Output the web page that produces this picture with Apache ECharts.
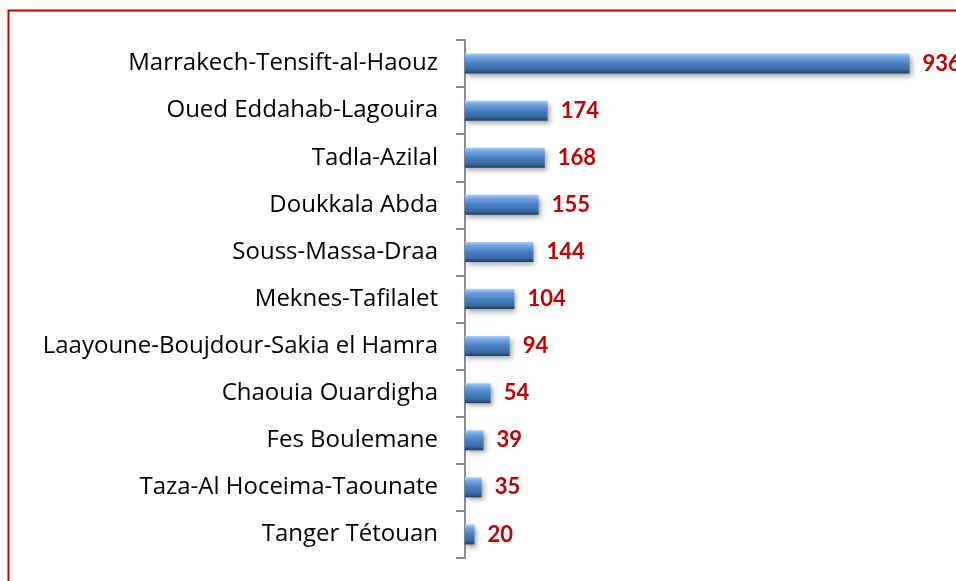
<!DOCTYPE html>
<html>
<head>
<meta charset="utf-8">
<script src="https://cdn.jsdelivr.net/npm/echarts@6/dist/echarts.min.js"></script>
<style>
  html, body { margin: 0; padding: 0; background: #fff; }
  #chart { width: 956px; height: 581px; }
</style>
</head>
<body>
<div id="chart"></div>
<script>
// regions, top to bottom as drawn
const regions = [
  'Marrakech-Tensift-al-Haouz',
  'Oued Eddahab-Lagouira',
  'Tadla-Azilal',
  'Doukkala Abda',
  'Souss-Massa-Draa',
  'Meknes-Tafilalet',
  'Laayoune-Boujdour-Sakia el Hamra',
  'Chaouia Ouardigha',
  'Fes Boulemane',
  'Taza-Al Hoceima-Taounate',
  'Tanger Tétouan'
]
const counts = [936, 174, 168, 155, 144, 104, 94, 54, 39, 35, 20]

const chart = echarts.init(document.getElementById('chart'))

// bevelled blue look
const barColor = new echarts.graphic.LinearGradient(0, 0, 0, 1, [
  { offset: 0, color: '#a9cdf5' },
  { offset: 0.2, color: '#6fa3e0' },
  { offset: 0.5, color: '#4a7fc1' },
  { offset: 0.8, color: '#3b6ba8' },
  { offset: 1, color: '#1e3d63' }
])

chart.setOption({
  animation: false,
  graphic: [{
    type: 'rect',
    shape: { x: 8.5, y: 10.5, width: 1200, height: 1000 },
    style: { fill: 'none', stroke: '#cc0000', lineWidth: 2 },
    silent: true
  }],
  grid: {
    left: 465,
    width: 475,
    top: 40,
    bottom: 23
  },
  xAxis: {
    type: 'value',
    min: 0,
    max: 1000,
    show: false
  },
  yAxis: {
    type: 'category',
    inverse: true,
    data: regions,
    axisLine: { show: true, lineStyle: { color: '#8c8c8c', width: 2 } },
    axisTick: { show: true, length: 9, lineStyle: { color: '#8c8c8c', width: 2 } },
    axisLabel: {
      margin: 27,
      color: '#000',
      fontFamily: 'Open Sans',
      fontSize: 24
    }
  },
  series: [{
    type: 'bar',
    data: counts,
    barWidth: 20,
    itemStyle: {
      color: barColor,
      shadowColor: 'rgba(0,0,0,0.35)',
      shadowBlur: 5,
      shadowOffsetX: 2,
      shadowOffsetY: 3
    },
    label: {
      show: true,
      position: 'right',
      distance: 13,
      color: '#c00000',
      fontFamily: 'Lato',
      fontWeight: 'bold',
      fontSize: 22
    }
  }]
})
</script>
</body>
</html>
